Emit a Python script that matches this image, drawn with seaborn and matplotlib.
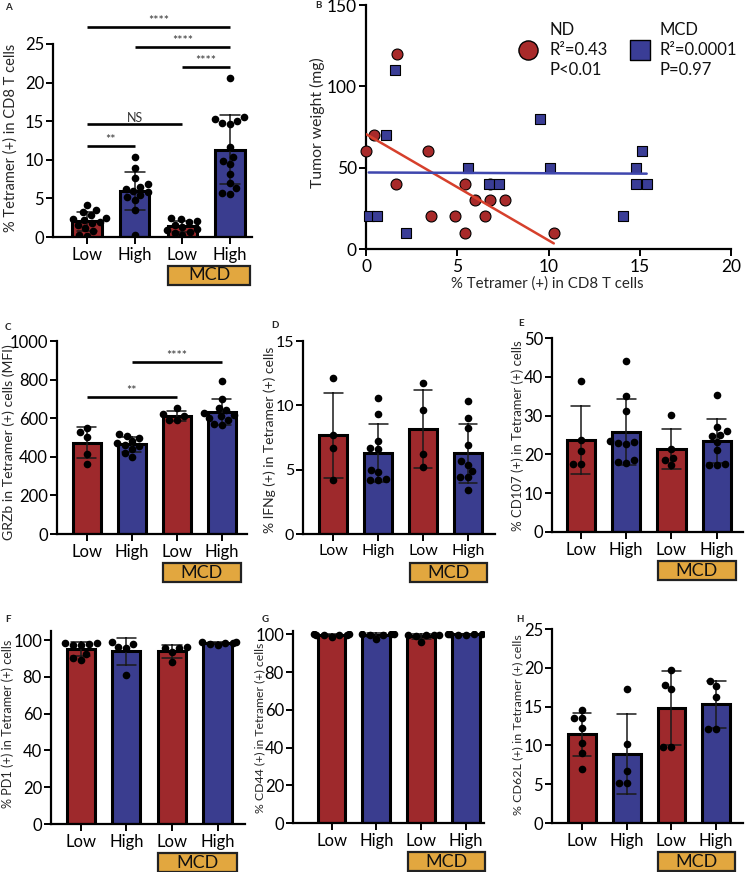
import numpy as np
import pandas as pd
import matplotlib
matplotlib.use("Agg")
import matplotlib.pyplot as plt
import matplotlib.transforms as mtransforms
from matplotlib.patches import Rectangle
import seaborn as sns

sns.set_style("ticks")
plt.rcParams['font.family'] = ['Lato', 'DejaVu Sans']
plt.rcParams['axes.linewidth'] = 1.6

# ---------------- data ----------------
GROUPS = ["Low", "High", "MCD Low", "MCD High"]
TICK_LABELS = ["Low", "High", "Low", "High"]

A_LOW = [4.2, 3.5, 3.2, 2.8, 2.5, 2.3, 2.2, 2.0, 1.8, 1.5, 1.2, 0.8, 0.3, 0.1]
A_HIGH = [10.3, 8.9, 7.6, 6.9, 6.5, 6.2, 6.0, 5.8, 5.5, 5.2, 4.8, 3.5, 0.2]
A_MCD_LOW = [2.5, 2.3, 2.1, 1.9, 1.6, 1.3, 1.1, 0.9, 0.7, 0.5, 0.3]
A_MCD_HIGH = [20.6, 15.5, 15.3, 15.0, 14.8, 14.6, 11.6, 10.3, 9.9, 9.4, 8.2, 7.0, 6.3, 5.7, 5.6]

ND_X = [1.68, 0.42, 0.02, 1.64, 3.39, 3.56, 4.87, 5.42, 5.42, 5.99, 6.53, 6.79, 6.80, 7.59, 10.29]
ND_Y = [120, 70, 60, 40, 60, 20, 20, 40, 10, 30, 20, 30, 40, 30, 10]
MCD_X = [1.59, 1.09, 0.15, 0.60, 2.19, 5.58, 6.73, 7.28, 9.56, 10.09, 14.1, 14.8, 14.8, 15.1, 15.38]
MCD_Y = [110, 70, 20, 20, 10, 50, 40, 40, 80, 50, 20, 50, 40, 60, 40]

C_LOW = [550, 530, 505, 415, 365]
C_HIGH = [520, 510, 500, 480, 470, 460, 455, 440, 420, 400]
C_MCD_LOW = [652, 620, 610, 592, 590]
C_MCD_HIGH = [795, 700, 655, 640, 625, 615, 610, 600, 590, 570, 565]

D_LOW = [12.1, 7.7, 6.7, 4.2]
D_HIGH = [10.6, 9.3, 7.2, 6.7, 6.6, 5.0, 4.8, 4.3, 4.2, 4.2]
D_MCD_LOW = [11.7, 9.6, 6.2, 5.2]
D_MCD_HIGH = [10.3, 9.0, 8.2, 6.9, 5.7, 5.4, 4.9, 4.4, 4.4, 3.4]

E_LOW = [38.9, 23.8, 20.8, 17.6, 17.5]
E_HIGH = [44.1, 35.1, 31.2, 23.5, 23.2, 23.0, 22.8, 18.5, 18.0, 17.9]
E_MCD_LOW = [30.2, 21.5, 19.2, 18.5, 17.2]
E_MCD_HIGH = [35.4, 27.0, 26.1, 25.0, 24.8, 23.2, 21.1, 17.5, 17.3, 17.2]

F_LOW = [98.5, 98.2, 97.8, 97.5, 97.3, 92.5, 90.2, 89.3]
F_HIGH = [99.0, 98.0, 96.5, 95.6, 80.9]
F_MCD_LOW = [96.4, 96.0, 95.5, 93.7, 88.2]
F_MCD_HIGH = [99.0, 98.8, 98.6, 98.4, 97.8, 97.3]

G_LOW = [100, 100, 99.9, 99.8, 99.6, 99.5, 98.8]
G_HIGH = [100, 100, 100, 99.9, 99.8, 97.6]
G_MCD_LOW = [99.7, 99.6, 99.6, 99.5, 99.4, 96.2]
G_MCD_HIGH = [100, 100, 100, 100, 99.9, 99.9]

H_LOW = [14.6, 13.5, 13.5, 12.2, 10.3, 9.0, 7.0]
H_HIGH = [17.3, 10.2, 6.7, 5.15, 5.15]
H_MCD_LOW = [19.7, 17.8, 17.3, 9.75, 9.75]
H_MCD_HIGH = [18.3, 17.7, 16.3, 12.1, 12.1]

# ---------------- style ----------------
RED = "#9E292C"
BLUE = "#3A3D8F"
ORANGE = "#E2A73F"
BAR_COLORS = [RED, BLUE, RED, BLUE]

W, H = 748, 872
fig = plt.figure(figsize=(W / 100, H / 100), dpi=100)
fig.patch.set_facecolor("white")


def axes_px(l, t, r, b):
    return fig.add_axes([l / W, 1 - b / H, (r - l) / W, (b - t) / H])


def fit_length(txt, target_px):
    r = fig.canvas.get_renderer()
    bb = txt.get_window_extent(renderer=r)
    length = max(bb.width, bb.height)
    txt.set_fontsize(txt.get_fontsize() * target_px / length)


def style_axes(ax, labelsize=12):
    sns.despine(ax=ax)
    for s in ("left", "bottom"):
        ax.spines[s].set_linewidth(1.6)
        ax.spines[s].set_color("black")
    ax.tick_params(axis="both", direction="out", length=5, width=1.4,
                   labelsize=labelsize, colors="black", pad=1.5)
    ax.tick_params(axis="x", pad=2.5)


def place_ylabel(ax, rect, text, xy, length_px):
    l, t, r, b = rect
    lab = ax.set_ylabel(text, fontsize=10, va="center", ha="center")
    ax.yaxis.set_label_coords((xy[0] - l) / (r - l), 1 - (xy[1] - t) / (b - t))
    fit_length(lab, length_px)


panels = [
    dict(key="A", rect=(53, 44, 252, 237), vals=[A_LOW, A_HIGH, A_MCD_LOW, A_MCD_HIGH],
         ylim=(0, 25), yticks=[0, 5, 10, 15, 20, 25], xlim=(-0.713, 3.46),
         ylabel="% Tetramer (+) in CD8 T cells", ylab_xy=(11, 138), ylab_len=188,
         letter_xy=(5, 7), ts=12,
         sig=[(0, 3, 27.2, "****"), (1, 3, 24.6, "****"), (2, 3, 22.0, "****"),
              (0, 2, 14.6, "NS"), (0, 1, 11.8, "**")]),
    dict(key="C", rect=(57, 341, 247, 534), vals=[C_LOW, C_HIGH, C_MCD_LOW, C_MCD_HIGH],
         ylim=(0, 1000), yticks=[0, 200, 400, 600, 800, 1000], xlim=(-0.66, 3.56),
         ylabel="GRZb in Tetramer (+) cells (MFI)", ylab_xy=(9, 442), ylab_len=196,
         letter_xy=(5, 328), ts=12,
         sig=[(0, 2, 709, "**"), (1, 3, 891, "****")]),
    dict(key="D", rect=(303, 341, 495, 534), vals=[D_LOW, D_HIGH, D_MCD_LOW, D_MCD_HIGH],
         ylim=(0, 15), yticks=[0, 5, 10, 15], xlim=(-0.67, 3.6),
         ylabel="% IFNg (+) in Tetramer (+) cells", ylab_xy=(270, 440), ylab_len=187,
         letter_xy=(271, 325), ts=11.5, sig=[]),
    dict(key="E", rect=(552, 338, 743, 532), vals=[E_LOW, E_HIGH, E_MCD_LOW, E_MCD_HIGH],
         ylim=(0, 50), yticks=[0, 10, 20, 30, 40, 50], xlim=(-0.64, 3.58),
         ylabel="% CD107 (+) in Tetramer (+) cells", ylab_xy=(518, 436), ylab_len=190,
         letter_xy=(518, 323), ts=12, sig=[]),
    dict(key="F", rect=(51, 631, 245, 824), vals=[F_LOW, F_HIGH, F_MCD_LOW, F_MCD_HIGH],
         ylim=(0, 105), yticks=[0, 20, 40, 60, 80, 100], xlim=(-0.65, 3.6),
         ylabel="% PD1 (+) in Tetramer (+) cells", ylab_xy=(8, 724), ylab_len=167,
         letter_xy=(5, 619), ts=12, sig=[]),
    dict(key="G", rect=(293, 631, 484, 823), vals=[G_LOW, G_HIGH, G_MCD_LOW, G_MCD_HIGH],
         ylim=(0, 101.8), yticks=[0, 20, 40, 60, 80, 100], xlim=(-0.86, 3.4),
         ylabel="% CD44 (+) in Tetramer (+) cells", ylab_xy=(260, 728), ylab_len=170,
         letter_xy=(262, 619), ts=12, sig=[]),
    dict(key="H", rect=(552, 629, 743, 823), vals=[H_LOW, H_HIGH, H_MCD_LOW, H_MCD_HIGH],
         ylim=(0, 25), yticks=[0, 5, 10, 15, 20, 25], xlim=(-0.67, 3.6),
         ylabel="% CD62L (+) in Tetramer (+) cells", ylab_xy=(518, 725), ylab_len=180,
         letter_xy=(516, 619), ts=12, sig=[]),
]

for cfg in panels:
    l, t, r, b = cfg["rect"]
    ax = axes_px(l, t, r, b)
    vals = cfg["vals"]
    df = pd.DataFrame({
        "group": np.repeat(GROUPS, [len(v) for v in vals]),
        "value": np.concatenate([np.asarray(v, float) for v in vals]),
    })
    sns.barplot(data=df, x="group", y="value", hue="group", order=GROUPS,
                hue_order=GROUPS, palette=BAR_COLORS, saturation=1,
                errorbar="sd", capsize=0.42, width=0.62,
                edgecolor="black", linewidth=2.2,
                err_kws={"color": "#1a1a1a", "linewidth": 1.1},
                legend=False, ax=ax)
    sns.swarmplot(data=df, x="group", y="value", order=GROUPS, color="black",
                  size=5.5, linewidth=0, ax=ax, warn_thresh=1, zorder=4)
    ax.set_xlim(*cfg["xlim"])
    ax.set_ylim(*cfg["ylim"])
    ax.set_yticks(cfg["yticks"])
    ax.set_xticks(range(4))
    ax.set_xticklabels(TICK_LABELS)
    ax.set_xlabel("")
    style_axes(ax, cfg["ts"])
    place_ylabel(ax, cfg["rect"], cfg["ylabel"], cfg["ylab_xy"], cfg["ylab_len"])

    # MCD bracket box under last two groups
    hpx = b - t
    trans = mtransforms.blended_transform_factory(ax.transData, ax.transAxes)
    y0 = -48 / hpx
    hh = 19 / hpx
    ax.add_patch(Rectangle((1.70, y0), 1.72, hh, transform=trans, clip_on=False,
                           facecolor=ORANGE, edgecolor="#222222", linewidth=1.6))
    ax.text(2.56, y0 + hh / 2, "MCD", transform=trans, ha="center", va="center",
            fontsize=13, color="#111111")

    # significance bars
    for x0, x1, yv, lab in cfg["sig"]:
        ax.plot([x0, x1], [yv, yv], color="black", lw=1.9, clip_on=False,
                solid_capstyle="butt")
        ax.text((x0 + x1) / 2, yv, lab, ha="center", va="bottom", fontsize=9,
                color="#333333", clip_on=False)

    fig.text(cfg["letter_xy"][0] / W, 1 - cfg["letter_xy"][1] / H, cfg["key"],
             fontsize=7, fontweight="bold", ha="left", va="center")

# ---------------- panel B ----------------
rectB = (366, 5, 731, 249)
axB = axes_px(*rectB)
sns.scatterplot(x=ND_X, y=ND_Y, marker="o", s=62, color="#A82A2A", edgecolor="black",
                linewidth=0.8, ax=axB, clip_on=False, zorder=3)
sns.scatterplot(x=MCD_X, y=MCD_Y, marker="s", s=58, color="#3A3D96", edgecolor="black",
                linewidth=0.8, ax=axB, clip_on=False, zorder=3)
sns.regplot(x=ND_X, y=ND_Y, scatter=False, ci=None, truncate=True, ax=axB,
            line_kws={"color": "#D6402C", "lw": 1.8, "zorder": 4})
sns.regplot(x=MCD_X, y=MCD_Y, scatter=False, ci=None, truncate=True, ax=axB,
            line_kws={"color": "#3F47AE", "lw": 1.8, "zorder": 4})
axB.set_xlim(0, 20)
axB.set_ylim(0, 150)
axB.set_xticks([0, 5, 10, 15, 20])
axB.set_yticks([0, 50, 100, 150])
style_axes(axB, 12.5)
place_ylabel(axB, rectB, "Tumor weight (mg)", (317, 123), 130)
xl = axB.set_xlabel("% Tetramer (+) in CD8 T cells", fontsize=10)
axB.xaxis.set_label_coords(0.497, -(284 - 249) / (249 - 5))
xl.set_va("center")
fit_length(xl, 193)

# legend-like annotation
axB.scatter([0.4435], [0.815], s=190, marker="o", color="#A82A2A", edgecolor="black",
            linewidth=1.0, transform=axB.transAxes, clip_on=False)
axB.scatter([0.752], [0.815], s=190, marker="s", color="#3A3D96", edgecolor="black",
            linewidth=1.0, transform=axB.transAxes, clip_on=False)
for x, lines in [(0.5025, ["ND", "R²=0.43", "P<0.01"]),
                 (0.804, ["MCD", "R²=0.0001", "P=0.97"])]:
    for yy, s in zip([0.897, 0.815, 0.735], lines):
        axB.text(x, yy, s, transform=axB.transAxes, ha="left", va="center",
                 fontsize=12, color="#111111")
fig.text(315 / W, 1 - 6 / H, "B", fontsize=7, fontweight="bold", ha="left", va="center")

fig.savefig("out.png", dpi=100, facecolor="white")
